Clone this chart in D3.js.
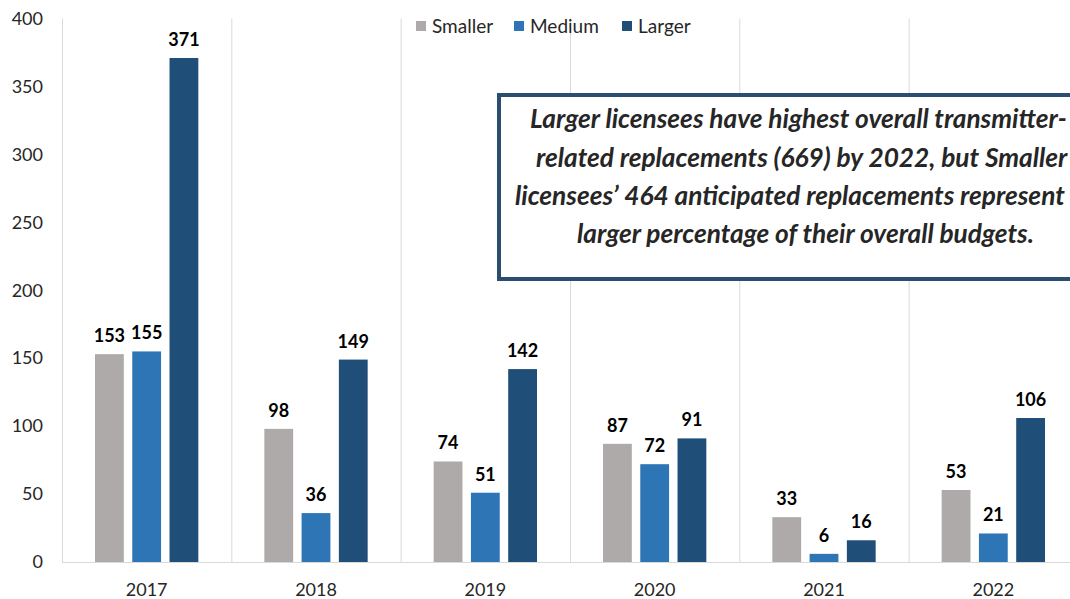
<!DOCTYPE html>
<html><head><meta charset="utf-8">
<script src="https://cdn.jsdelivr.net/npm/d3@7"></script>
<style>
html,body{margin:0;padding:0;background:#fff;overflow:hidden;}
svg{display:block;font-family:Lato,"Open Sans",sans-serif;}
</style></head>
<body><svg id="chart" width="1070" height="599"></svg>
<script>
const categories = ["2017","2018","2019","2020","2021","2022"];
const seriesNames = ["Smaller","Medium","Larger"];
const smaller = [153, 98, 74, 87, 33, 53];
const medium  = [155, 36, 51, 72, 6, 21];
const larger  = [371, 149, 142, 91, 16, 106];
const yTicks = [0,50,100,150,200,250,300,350,400];
const colors = ["#AEAAAA","#2E75B6","#1F4E79"];
const noteLines = [
  "Larger licensees have highest overall transmitter-",
  "related replacements (669) by 2022, but Smaller",
  "licensees\u2019 464 anticipated replacements represent",
  "larger percentage of their overall budgets."
];

const seriesValues = [smaller, medium, larger];
const svg = d3.select("#chart");
const plotLeft = 62, plotRight = 1078, plotTop = 18.6, plotBottom = 562;

const x0 = d3.scaleBand().domain(categories).range([plotLeft, plotRight]).padding(0);
const x1 = d3.scaleBand().domain(seriesNames).range([33, x0.bandwidth()-33]).paddingInner(0.227).paddingOuter(0);
const y = d3.scaleLinear().domain([0,400]).range([plotBottom, plotTop]);

// vertical gridlines at category boundaries
const bounds = categories.map(c => x0(c));
svg.append("g").selectAll("line").data(bounds).join("line")
  .attr("x1", d=>d+0.5).attr("x2", d=>d+0.5)
  .attr("y1", y(400)).attr("y2", plotBottom)
  .attr("stroke","#D9D9D9").attr("stroke-width",1);

// baseline
svg.append("line").attr("x1",plotLeft).attr("x2",1070).attr("y1",plotBottom+0.5).attr("y2",plotBottom+0.5)
  .attr("stroke","#D9D9D9").attr("stroke-width",1.2);

// y axis labels
const yAxis = d3.axisLeft(y).tickValues(yTicks).tickSize(0).tickPadding(0);
const gy = svg.append("g").attr("transform",`translate(43,0)`).call(yAxis);
gy.select(".domain").remove();
gy.selectAll("text").attr("font-size",18).attr("fill","#262626").attr("font-family","Lato");

// x axis labels
const xAxis = d3.axisBottom(x0).tickSize(0).tickPadding(0);
const gx = svg.append("g").attr("transform",`translate(0,${plotBottom+21})`).call(xAxis);
gx.select(".domain").remove();
gx.selectAll("text").attr("font-size",18).attr("fill","#262626").attr("font-family","Lato");

// bars
const rows = categories.map((c,i)=>({cat:c, vals: seriesNames.map((s,j)=>({s, j, v: seriesValues[j][i]}))}));
const groups = svg.append("g").selectAll("g").data(rows).join("g")
  .attr("transform", d=>`translate(${x0(d.cat)},0)`);
groups.selectAll("rect").data(d=>d.vals).join("rect")
  .attr("x", d=>x1(d.s)).attr("width", x1.bandwidth())
  .attr("y", d=>y(d.v)).attr("height", d=>plotBottom - y(d.v))
  .attr("fill", d=>colors[d.j]);
groups.selectAll("text").data(d=>d.vals).join("text")
  .attr("x", d=>x1(d.s)+x1.bandwidth()/2).attr("y", d=>y(d.v)-12)
  .attr("text-anchor","middle").attr("font-size",18).attr("font-weight","bold")
  .attr("fill","#000").text(d=>d.v);

// legend
const legX = [416, 514, 622];
const leg = svg.append("g").selectAll("g").data(seriesNames).join("g")
  .attr("transform",(d,i)=>`translate(${legX[i]},21)`);
leg.append("rect").attr("width",10).attr("height",10).attr("fill",(d,i)=>colors[i]);
leg.append("text").attr("x",16).attr("y",11.5).attr("font-size",19).attr("fill","#262626").text(d=>d);

// annotation box
svg.append("rect").attr("x",499).attr("y",95).attr("width",620).attr("height",184)
  .attr("fill","#fff").attr("stroke","#2B4D6F").attr("stroke-width",4);
const noteX = [530, 536, 515, 577];
const noteY = [128, 167, 205, 243];
const nt = svg.append("g").selectAll("text").data(noteLines).join("text")
  .attr("x",(d,i)=>noteX[i]).attr("y",(d,i)=>noteY[i])
  .attr("font-size",22).attr("font-weight","bold").attr("font-style","italic")
  .attr("fill","#262626").text(d=>d);
// scale font so line 3 matches its width in the reference (~550px)
const w3 = nt.nodes()[2].getComputedTextLength();
const fs = 22*550/w3;
nt.attr("font-size", fs);
</script></body></html>
